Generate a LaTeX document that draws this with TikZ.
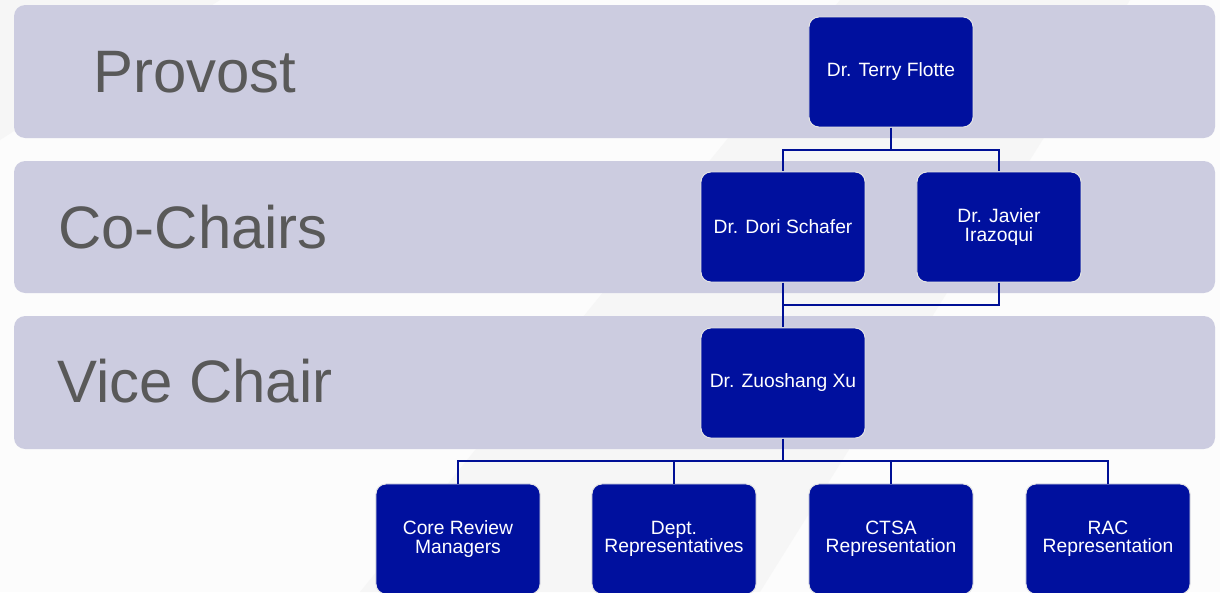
\documentclass[tikz,border=0pt]{standalone}
\usepackage{fontspec}
\setmainfont{Liberation Sans}
\definecolor{band}{RGB}{204,204,224}
\definecolor{boss}{RGB}{0,16,158}
\definecolor{wire}{RGB}{0,16,150}
\definecolor{label}{RGB}{89,89,89}
\definecolor{paper}{RGB}{252,252,252}
\definecolor{streak}{RGB}{246,246,246}

\begin{document}
\begin{tikzpicture}[x=0.025cm,y=-0.025cm,
  person/.style={draw=black!10,line width=0.7pt,fill=boss,text=white,rounded corners=7pt,
    minimum width=4.1cm,minimum height=2.75cm,align=center,inner sep=2pt,
    font=\fontsize{13.7}{13}\selectfont},
  rank/.style={anchor=base west,inner sep=0,text=label,font=\fontsize{42.6}{42}\selectfont},
  link/.style={draw=wire,line width=1.6pt}]
\useasboundingbox (0,0) rectangle (1220,592);
\fill[paper] (0,0) rectangle (1220,592);
\fill[streak] (840,0) -- (1130,0) -- (760,592) -- (360,592) -- cycle;
\fill[streak] (0,0) -- (220,0) -- (0,140) -- cycle;
% bands
\foreach \top/\bot in {5/138,161/293,316/449}
  \fill[band,rounded corners=8pt] (14,\top) rectangle (1215,\bot);
\node[rank] (provost) at (93,92) {Provost};
\node[rank] (cochairs) at (58,248) {Co-Chairs};
\node[rank] (vicechair) at (57,402) {Vice Chair};
% people
\node[person] (terry) at (891,72) {Dr. Terry Flotte};
\node[person] (dori) at (783,227) {Dr. Dori Schafer};
\node[person] (javier) at (999,227) {Dr. Javier\\Irazoqui};
\node[person] (zuo) at (783,383) {Dr. Zuoshang Xu};
\node[person] (core) at (458,539) {Core Review\\Managers};
\node[person] (dept) at (674,539) {Dept.\\Representatives};
\node[person] (ctsa) at (891,539) {CTSA\\Representation};
\node[person] (rac) at (1108,539) {RAC\\Representation};
% links
\coordinate (j1) at (891,150);
\coordinate (j2) at (783,305);
\coordinate (j3) at (783,461);
\draw[link] (terry.south) -- (j1) -| (dori.north);
\draw[link] (j1) -| (javier.north);
\draw[link] (dori.south) -- (zuo.north);
\draw[link] (javier.south) |- (j2);
\draw[link] (zuo.south) -- (j3);
\foreach \who in {core,dept,ctsa,rac}
  \draw[link] (j3) -| (\who.north);
\end{tikzpicture}
\end{document}
